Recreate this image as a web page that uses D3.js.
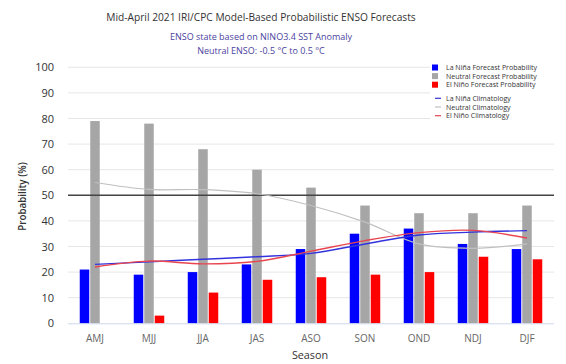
<!DOCTYPE html>
<html><head><meta charset="utf-8">
<script src="https://cdn.jsdelivr.net/npm/d3@7"></script>
<style>
body{margin:0;background:#fff;}
text{font-family:"Open Sans","Liberation Sans",sans-serif;}
</style></head>
<body><svg id="c" width="566" height="364"></svg>
<script>
const seasons = ["AMJ","MJJ","JJA","JAS","ASO","SON","OND","NDJ","DJF"];
const laNina = [21,19,20,23,29,35,37,31,29];
const neutral = [79,78,68,60,53,46,43,43,46];
const elNino = [0,3,12,17,18,19,20,26,25];
const laNinaClim = [23,24,25,26,27.3,31,34.5,35.6,36.2];
const neutralClim = [55,52.3,52.2,50.6,46,39.5,31,29.3,31];
const elNinoClim = [22,24.3,23.2,24.2,28.2,32.3,35.4,36.3,33.3];
const yTicks = [0,10,20,30,40,50,60,70,80,90,100];

(function(){
const svg = d3.select("#c");
const pL = 68, pR = 554, pT = 67.3, pB = 323.3;
const x = d3.scaleBand().domain(seasons).range([pL,pR]);
const y = d3.scaleLinear().domain([0,100]).range([pB,pT]);
const bw = 9.5;

svg.append("g").selectAll("line").data(yTicks.filter(d=>d>0)).join("line")
  .attr("x1",pL).attr("x2",pR).attr("y1",d=>y(d)).attr("y2",d=>y(d))
  .attr("stroke","#e6e6e6").attr("stroke-width",1);

svg.append("g").selectAll("text").data(yTicks).join("text")
  .attr("x",54).attr("y",d=>y(d)+4).attr("text-anchor","end")
  .attr("font-size",11).attr("fill","#333").text(d=>d);

const series = [{v:laNina,c:"#0000ff",o:-1},{v:neutral,c:"#a6a6a6",o:0},{v:elNino,c:"#ff0000",o:1}];
series.forEach(s=>{
  svg.append("g").selectAll("rect").data(seasons).join("rect")
    .attr("x",d=>x(d)+x.bandwidth()/2 + s.o*10.5 - bw/2)
    .attr("width",bw)
    .attr("y",(d,i)=>y(s.v[i]))
    .attr("height",(d,i)=>pB-y(s.v[i]))
    .attr("fill",s.c);
});

svg.append("line").attr("x1",pL).attr("x2",pR).attr("y1",pB+0.5).attr("y2",pB+0.5)
  .attr("stroke","#ccd6eb").attr("stroke-width",1);

svg.append("line").attr("x1",pL).attr("x2",pR).attr("y1",y(50)).attr("y2",y(50))
  .attr("stroke","#444").attr("stroke-width",1.5);

const line = d3.line().x((d,i)=>x(seasons[i])+x.bandwidth()/2).y(d=>y(d)).curve(d3.curveCatmullRom.alpha(0.5));
[[neutralClim,"#c0c0c0",1.2],[laNinaClim,"#3333dd",1.4],[elNinoClim,"#e8454f",1.4]].forEach(([v,c,w])=>{
  svg.append("path").attr("d",line(v)).attr("fill","none").attr("stroke",c).attr("stroke-width",w);
});

svg.append("g").selectAll("text").data(seasons).join("text")
  .attr("x",d=>x(d)+x.bandwidth()/2).attr("y",341.5).attr("text-anchor","middle")
  .attr("font-size",10).attr("fill","#666").text(d=>d);

svg.append("text").attr("x",310).attr("y",359).attr("text-anchor","middle")
  .attr("font-size",10.8).attr("fill","#333").text("Season");

svg.append("text").attr("transform","translate(25.5,196.5) rotate(-90)").attr("text-anchor","middle")
  .attr("font-size",9.8).attr("font-weight",600).attr("fill","#333").text("Probability (%)");

svg.append("text").attr("x",261).attr("y",20.5).attr("text-anchor","middle")
  .attr("font-size",10.2).attr("fill","#333").text("Mid-April 2021 IRI/CPC Model-Based Probabilistic ENSO Forecasts");
svg.append("text").attr("x",261).attr("y",39.5).attr("text-anchor","middle")
  .attr("font-size",9).attr("fill","#4b3f9e").text("ENSO state based on NINO3.4 SST Anomaly");
svg.append("text").attr("x",261).attr("y",53.5).attr("text-anchor","middle")
  .attr("font-size",9).attr("fill","#4b3f9e").text("Neutral ENSO: -0.5 °C to 0.5 °C");

const lg = svg.append("g").style("font-family","'Liberation Sans',Arial,sans-serif");
lg.append("rect").attr("x",430).attr("y",60).attr("width",126).attr("height",62).attr("fill","#fff");
const legBars = [["La Niña Forecast Probability","#0000ff"],["Neutral Forecast Probability","#a6a6a6"],["El Niño Forecast Probability","#ff0000"]];
legBars.forEach((d,i)=>{
  lg.append("rect").attr("x",432).attr("y",64.5+i*8.6).attr("width",6).attr("height",6).attr("fill",d[1]);
  lg.append("text").attr("x",446).attr("y",70.2+i*8.6).attr("font-size",7).attr("fill","#333").text(d[0]);
});
const legLines = [["La Niña Climatology","#3333dd"],["Neutral Climatology","#c0c0c0"],["El Niño Climatology","#e8454f"]];
legLines.forEach((d,i)=>{
  const yy = 98.3+i*8.7;
  lg.append("line").attr("x1",435).attr("x2",441).attr("y1",yy).attr("y2",yy).attr("stroke",d[1]).attr("stroke-width",1.2);
  lg.append("text").attr("x",446).attr("y",yy+2.5).attr("font-size",7).attr("fill","#333").text(d[0]);
});
})();
</script></body></html>
